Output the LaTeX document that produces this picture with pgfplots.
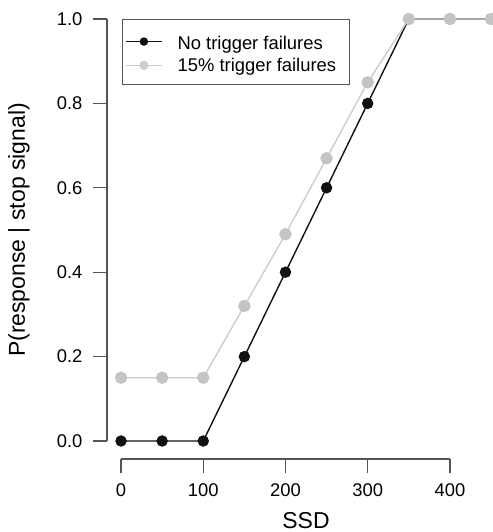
\documentclass[border=0pt]{standalone}
\usepackage{pgfplots}
\pgfplotsset{compat=1.18}
\usepackage{fontspec}
\setmainfont{Liberation Sans}
\definecolor{darkdot}{HTML}{111111}
\definecolor{lightline}{HTML}{CCCCCC}
\definecolor{lightdot}{HTML}{C4C4C4}
\definecolor{axisgray}{HTML}{555555}
\begin{document}
\begin{tikzpicture}[x=1pt,y=1pt]
\begin{axis}[
    at={(0,0)}, anchor=south west,
    scale only axis,
    width=385pt, height=440pt,
    xmin=-17.07, xmax=451.2,
    ymin=-0.04265, ymax=1.0,
    clip=false,
    axis x line*=bottom, axis y line*=left,
    axis line style={draw=none},
    xtick={0,100,200,300,400},
    ytick={0,0.2,0.4,0.6,0.8,1.0},
    yticklabel style={xshift=-7pt, /pgf/number format/.cd,fixed,fixed zerofill,precision=1},
    xticklabel style={yshift=-7pt},
    /pgf/number format/assume math mode=true,
    tick align=outside,
    major tick length=14pt,
    tick style={axisgray, line width=1.2pt},
    ticklabel style={font=\fontsize{18.4}{20}\selectfont},
    xlabel={SSD},
    ylabel={P(response | stop signal)},
    label style={font=\fontsize{23}{26}\selectfont},
    xlabel style={at={(axis description cs:0.517,-0.140)}, anchor=center},
    ylabel style={at={(axis description cs:-0.2286,0.5205)}, anchor=center, rotate=0},
    legend cell align=left,
    legend style={at={(axis description cs:0.0382,0.9993)}, anchor=north west,
        draw=axisgray, line width=1pt, inner xsep=3pt, inner ysep=10pt,
        nodes={inner sep=2pt}, column sep=13pt, row sep=2.7pt,
        font=\fontsize{18.4}{20}\selectfont},
    legend image code/.code={
        \draw[#1, mark options={scale=0.7}, mark repeat=2, mark phase=2]
            plot coordinates {(0pt,0pt) (18pt,0pt) (36pt,0pt)};},
]
\draw[axisgray, line width=1.2pt] (axis cs:0,-0.04265) -- (axis cs:400,-0.04265);
\draw[axisgray, line width=1.2pt] (axis cs:-17.07,0) -- (axis cs:-17.07,1);

\addplot[darkdot, line width=1.4pt, mark=*, mark size=5pt,
    mark options={fill=darkdot, draw=darkdot}]
    coordinates {(0,0) (50,0) (100,0) (150,0.2) (200,0.4) (250,0.6) (300,0.8) (350,1.0) (400,1.0) (450,1.0)};
\addlegendentry{\makebox[167pt][l]{\rule[-4pt]{0pt}{22pt}No trigger failures}}
\addplot[lightline, line width=1.4pt, mark=*, mark size=5.5pt,
    mark options={fill=lightdot, draw=lightdot}]
    coordinates {(0,0.15) (50,0.15) (100,0.15) (150,0.32) (200,0.49) (250,0.67) (300,0.85) (350,1.0) (400,1.0) (450,1.0)};
\addlegendentry{\makebox[167pt][l]{\rule[-4pt]{0pt}{17pt}15\% trigger failures}}
\end{axis}
\pgfresetboundingbox
\useasboundingbox (-107,-73) rectangle (385,459);
\end{tikzpicture}
\end{document}
